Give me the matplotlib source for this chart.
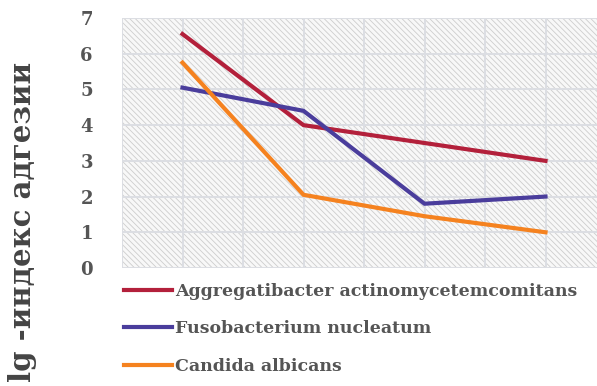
import matplotlib.pyplot as plt
from matplotlib.patches import Rectangle

# Data
points = [0.5, 1.5, 2.5, 3.5]
aggregatibacter = [6.55, 4.0, 3.5, 3.0]
fusobacterium = [5.05, 4.4, 1.8, 2.0]
candida = [5.75, 2.05, 1.45, 1.0]
series_names = ['Aggregatibacter actinomycetemcomitans',
                'Fusobacterium nucleatum',
                'Candida albicans']
series_colors = ['#b3203b', '#4a3d9c', '#f5821f']
y_ticks = [0, 1, 2, 3, 4, 5, 6, 7]

plt.rcParams['hatch.linewidth'] = 0.6

fig = plt.figure(figsize=(5.97, 3.86), dpi=100)
W, H = 597, 386
# plot area in pixels: left 122, right 606 (cut off), top 18, bottom 268
ax = fig.add_axes([122 / W, (H - 268) / H, (606 - 122) / W, (268 - 18) / H])
ax.set_xlim(0, 4)
ax.set_ylim(0, 7)

# hatched background
bg = Rectangle((0, 0), 4, 7, facecolor='#f8f8f8', edgecolor='#cdcdcd',
               hatch='\\\\\\\\\\\\', linewidth=0, zorder=0)
ax.add_patch(bg)

# gridlines
for y in y_ticks:
    ax.axhline(y, color='#dcdee3', linewidth=1.4, zorder=1)
for x in [0.5 * i for i in range(9)]:
    ax.axvline(x, color='#dcdee3', linewidth=1.4, zorder=1)

for vals, name, col in zip([aggregatibacter, fusobacterium, candida],
                           series_names, series_colors):
    ax.plot(points, vals, color=col, linewidth=3, label=name, zorder=3,
            solid_joinstyle='miter')

for s in ax.spines.values():
    s.set_visible(False)
ax.set_xticks([])
ax.set_yticks(y_ticks)
ax.set_yticklabels([str(t) for t in y_ticks], fontsize=13, fontweight='bold',
                   color='#555555', family='DejaVu Serif')
ax.tick_params(axis='y', length=0, pad=21)

fig.text(0.037, 0.425, 'lg -индекс адгезии', rotation=90, fontsize=21,
         fontweight='bold', color='#444444', family='DejaVu Serif',
         ha='center', va='center')

fig.legend(loc='upper left', bbox_to_anchor=(108 / W, 1 - 267 / H),
           frameon=False, handlelength=2.8, handletextpad=0.15,
           labelspacing=1.2, prop={'family': 'DejaVu Serif',
                                   'weight': 'bold', 'size': 12.5},
           labelcolor='#555555')

fig.savefig('out.png', dpi=100)
